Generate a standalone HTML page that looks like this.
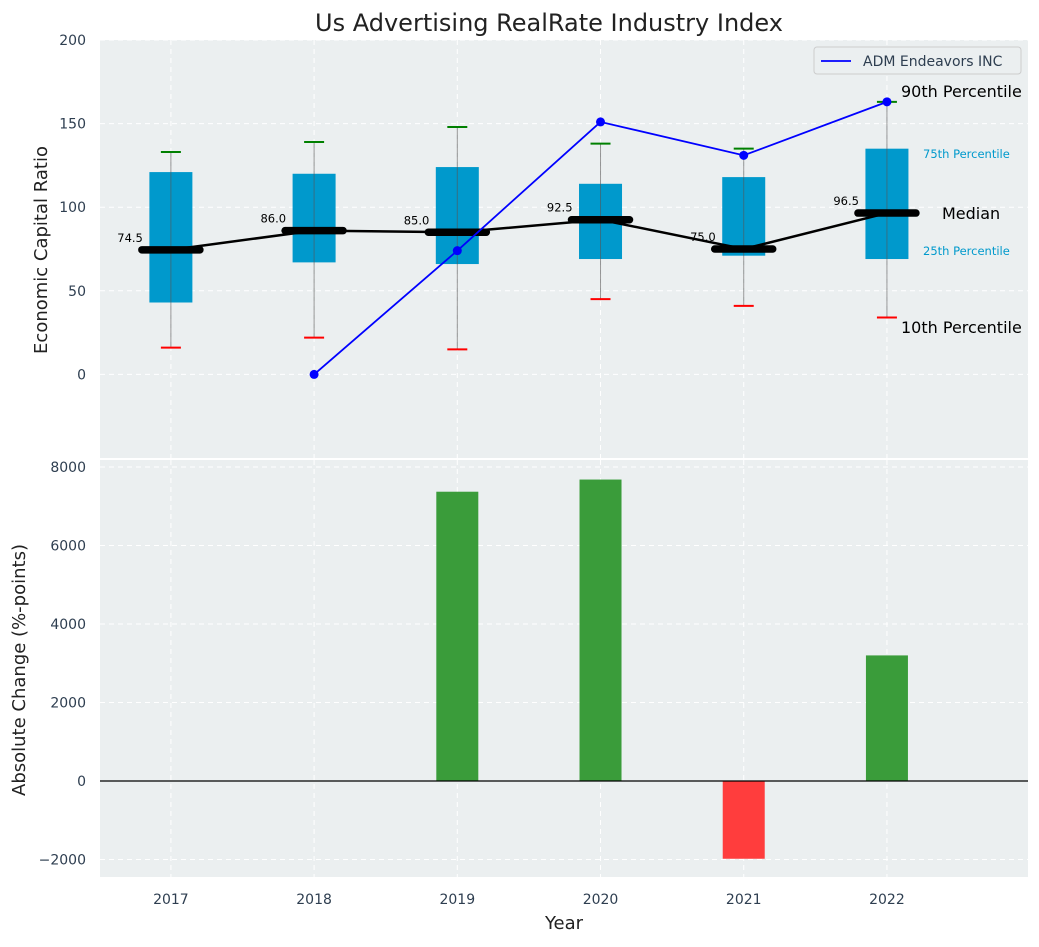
<!DOCTYPE html>
<html><head><meta charset="utf-8"><style>
body{margin:0;background:#fff;font-family:"Liberation Sans","DejaVu Sans",sans-serif}
svg text{font-family:"DejaVu Sans","Liberation Sans",sans-serif}
</style></head><body>
<svg id="c" width="1039" height="942" xmlns="http://www.w3.org/2000/svg"></svg>
<script>
const years=[2017,2018,2019,2020,2021,2022];
const p10=[16,22,15,45,41,34];
const q1=[43,67,66,69,71,69];
const med=[74.5,86.0,85.0,92.5,75.0,96.5];
const q3=[121,120,124,114,118,135];
const p90=[133,139,148,138,135,163];
const admYears=[2018,2019,2020,2021,2022];
const admVals=[0,74,151,131,163];
const changeYears=[2019,2020,2021,2022];
const changeVals=[7370,7680,-1980,3200];
const topTicks=[0,50,100,150,200];
const botTicks=[-2000,0,2000,4000,6000,8000];

const NS="http://www.w3.org/2000/svg";
const svg=document.getElementById('c');
function el(t,a,p){const e=document.createElementNS(NS,t);for(const k in a)e.setAttribute(k,a[k]);(p||svg).appendChild(e);return e;}
const L=100,R=1028;
const x=v=>L+(v-2016.505)/(2022.985-2016.505)*(R-L);
const T0=40,T1=458,yt=v=>T1-(v+50)/250*(T1-T0);
const B0=460,B1=877,yb=v=>B1-(v+2445)/(8178+2445)*(B1-B0);

let e=el('rect',{x:L,y:T0,width:R-L,height:T1-T0,fill:'#ebeff0'});

e=el('rect',{x:L,y:B0,width:R-L,height:B1-B0,fill:'#ebeff0'});


years.forEach(yr=>{
 el('line',{x1:x(yr),x2:x(yr),y1:T0,y2:T1,stroke:'#fff','stroke-dasharray':'5,4','stroke-width':1});
 el('line',{x1:x(yr),x2:x(yr),y1:B0,y2:B1,stroke:'#fff','stroke-dasharray':'5,4','stroke-width':1});
 e=el('text',{x:x(yr),y:904,'text-anchor':'middle','font-size':14,fill:'#2e3e50'});e.textContent=yr;
 
});
topTicks.forEach(t=>{
 el('line',{x1:L,x2:R,y1:yt(t),y2:yt(t),stroke:'#fff','stroke-dasharray':'5,4'});
 e=el('text',{x:86,y:yt(t)+5,'text-anchor':'end','font-size':14,fill:'#2e3e50'});e.textContent=t;
 
});
botTicks.forEach(t=>{
 el('line',{x1:L,x2:R,y1:yb(t),y2:yb(t),stroke:'#fff','stroke-dasharray':'5,4'});
 e=el('text',{x:86,y:yb(t)+5,'text-anchor':'end','font-size':14,fill:'#2e3e50'});e.textContent=t<0?'\u2212'+(-t):t;
 
});

years.forEach((yr,i)=>{
 const cx=x(yr);
 e=el('rect',{x:cx-21.5,y:yt(q3[i]),width:43,height:yt(q1[i])-yt(q3[i]),fill:'#0099cc'});
 
 el('line',{x1:cx,x2:cx,y1:yt(p10[i]),y2:yt(p90[i]),stroke:'#555','stroke-opacity':0.6,'stroke-width':1});
 e=el('line',{x1:cx-10,x2:cx+10,y1:yt(p90[i]),y2:yt(p90[i]),stroke:'green','stroke-width':2});
 
 e=el('line',{x1:cx-10,x2:cx+10,y1:yt(p10[i]),y2:yt(p10[i]),stroke:'red','stroke-width':2});
 
});
e=el('polyline',{points:years.map((yr,i)=>x(yr)+','+yt(med[i])).join(' '),fill:'none',stroke:'#000','stroke-width':2.5});

years.forEach((yr,i)=>{
 e=el('line',{x1:x(yr)-29,x2:x(yr)+29,y1:yt(med[i]),y2:yt(med[i]),stroke:'#000','stroke-width':7.5,'stroke-linecap':'round'});
 
 e=el('text',{x:x(yr)-28,y:yt(med[i])-8,'text-anchor':'end','font-size':11.5,fill:'#000'});e.textContent=med[i].toFixed(1);
 
});
e=el('polyline',{points:admYears.map((yr,i)=>x(yr)+','+yt(admVals[i])).join(' '),fill:'none',stroke:'blue','stroke-width':1.8});

admYears.forEach((yr,i)=>{e=el('circle',{cx:x(yr),cy:yt(admVals[i]),r:4.5,fill:'blue'});
 });

const ann=[[901,97,'90th Percentile',16,'#000'],[923,158,'75th Percentile',11.5,'#0099cc'],[942,219,'Median',16,'#000'],[923,255,'25th Percentile',11.5,'#0099cc'],[901,333,'10th Percentile',16,'#000']];
ann.forEach(a=>{e=el('text',{x:a[0],y:a[1],'font-size':a[3],fill:a[4]});e.textContent=a[2];
 });

const lg=el('g',{});
el('rect',{x:814,y:47,width:207,height:27,rx:3,fill:'#ebeff0',stroke:'#ccc'},lg);
el('line',{x1:821,x2:851,y1:61,y2:61,stroke:'blue','stroke-width':1.8},lg);
e=el('text',{x:863,y:66,'font-size':14,fill:'#2e3e50'},lg);e.textContent='ADM Endeavors INC';

changeYears.forEach((yr,i)=>{const v=changeVals[i];
 e=el('rect',{x:x(yr)-21,y:yb(Math.max(v,0)),width:42,height:Math.abs(yb(v)-yb(0)),fill:v>=0?'#3a9c3a':'#ff3d3d'});
 });
e=el('line',{x1:L,x2:R,y1:yb(0),y2:yb(0),stroke:'#000','stroke-width':1.2});


e=el('text',{x:549,y:31,'text-anchor':'middle','font-size':24,fill:'#222'});e.textContent='Us Advertising RealRate Industry Index';

e=el('text',{x:0,y:0,'text-anchor':'middle','font-size':18,fill:'#222',transform:'translate(47,250) rotate(-90)'});e.textContent='Economic Capital Ratio';

e=el('text',{x:0,y:0,'text-anchor':'middle','font-size':18,fill:'#222',transform:'translate(25,670) rotate(-90)'});e.textContent='Absolute Change (%-points)';

e=el('text',{x:564,y:929,'text-anchor':'middle','font-size':18,fill:'#222'});e.textContent='Year';

</script>
</body></html>
